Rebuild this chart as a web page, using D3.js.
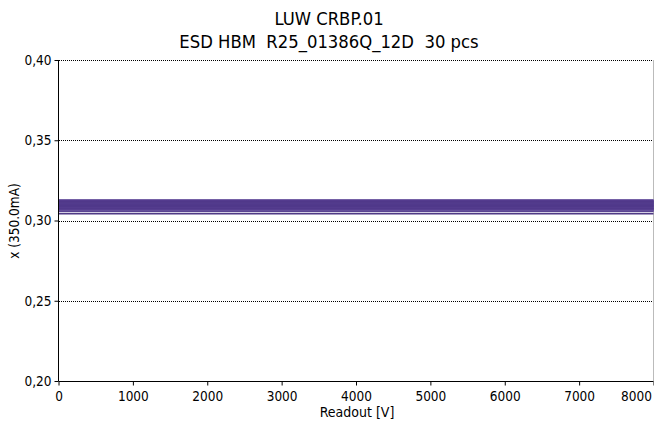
<!DOCTYPE html>
<html><head><meta charset="utf-8">
<script src="https://cdn.jsdelivr.net/npm/d3@7"></script>
<style>body{margin:0;background:#fff}text{font-family:"DejaVu Sans Condensed","DejaVu Sans",sans-serif;fill:#000;white-space:pre}</style>
</head><body><svg id="c" width="654" height="425"></svg>
<script>
const titleLines = ["LUW CRBP.01", "ESD HBM  R25_01386Q_12D  30 pcs"];
const xLabel = "Readout [V]";
const yLabel = "x (350.0mA)";
const xTicks = [0,1000,2000,3000,4000,5000,6000,7000,8000];
const yTicks = [0.20,0.25,0.30,0.35,0.40];
const readout = [0, 8000];
const pieceValues = [0.3129,0.3127,0.3124,0.3122,0.3119,0.3117,0.3114,0.3112,0.3109,0.3107,
  0.3104,0.3102,0.3099,0.3097,0.3094,0.3092,0.3089,0.3087,0.3084,0.3082,
  0.3079,0.3077,0.3074,0.3072,0.3069,0.3066,0.3063,0.3060,0.3057,0.3042];
const pieceColors = ["#7e69ab","#7863a7","#6c57a0","#5c4594","#52398b","#4e3688","#553d8e","#4b3485",
  "#5a4392","#4f3788","#52398b","#4c3586","#6650a0","#553d8e","#4e3688","#52398b",
  "#4c3586","#5a4392","#50388a","#4e3688","#6a559f","#52398b","#4c3586","#553d8e",
  "#4e3688","#5d4795","#52398b","#6f5aa3","#5a4492","#4f3a86"];

const svg = d3.select("#c");
const x = d3.scaleLinear().domain([0,8000]).range([58.5,653.5]);
const y = d3.scaleLinear().domain([0.20,0.40]).range([381,60]);

// gridlines
svg.append("g").selectAll("line").data(yTicks.filter(v=>v>0.2)).join("line")
  .attr("x1",58.5).attr("x2",653.5).attr("y1",d=>Math.round(y(d))+0.5).attr("y2",d=>Math.round(y(d))+0.5)
  .attr("stroke","#000").attr("stroke-width",1).attr("stroke-dasharray","1,1").attr("shape-rendering","crispEdges");
svg.append("line").attr("x1",653.5).attr("x2",653.5).attr("y1",60).attr("y2",381).attr("stroke","#bbb");

// lines
const line = d3.line().x(d=>x(d[0])).y(d=>d[1]);
svg.append("g").selectAll("path").data(pieceValues).join("path")
  .attr("d",(v)=>line(readout.map(r=>[r,y(v)])))
  .attr("fill","none").attr("stroke",(d,i)=>pieceColors[i%pieceColors.length])
  .attr("stroke-width",1.7);

// axes
const xa = svg.append("g").attr("transform","translate(0,381.5)")
  .call(d3.axisBottom(x).tickValues(xTicks).tickSize(4).tickFormat(d3.format("d")));
const ya = svg.append("g").attr("transform","translate(58.5,0)")
  .call(d3.axisLeft(y).tickValues(yTicks).tickSize(4).tickFormat(d=>d3.format(".2f")(d).replace(".",",")));
[xa,ya].forEach(a=>{a.selectAll("text").style("font-size","13.5px");a.select(".domain").attr("stroke","#000");});
xa.select(".domain").attr("d","M58.5,0H653.5");
ya.select(".domain").attr("d","M0,60V381");
xa.selectAll("text").attr("dy","0.95em");
xa.selectAll(".tick").filter(d=>d===8000).select("text").attr("text-anchor","end").attr("x",-2);

// titles
svg.selectAll("text.t").data(titleLines).join("text").attr("class","t")
  .attr("x",329).attr("y",(d,i)=>25+i*23).attr("text-anchor","middle").style("font-size","18.3px").text(d=>d);
svg.append("text").attr("x",357).attr("y",417).attr("text-anchor","middle").style("font-size","14px").text(xLabel);
svg.append("text").attr("transform","translate(19,221) rotate(-90)").attr("text-anchor","middle").style("font-size","13.5px").text(yLabel);
</script></body></html>
